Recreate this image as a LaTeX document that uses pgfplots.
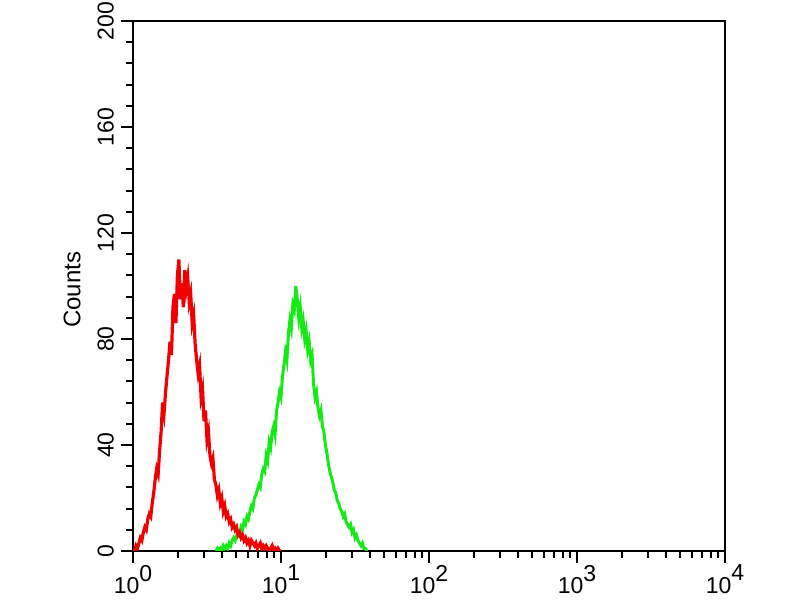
\documentclass[border=0pt]{standalone}
\usepackage{pgfplots}
\pgfplotsset{compat=1.18}
\usepackage{fontspec}
\setmainfont{Liberation Sans}
\definecolor{fcred}{RGB}{240,0,0}
\definecolor{fcgreen}{RGB}{20,235,20}
\newcommand{\pw}[1]{10\raisebox{0.55em}{#1}}
\begin{document}
\begin{tikzpicture}
\useasboundingbox (-66.5pt,-24.5pt) rectangle (333.5pt,275.5pt);
\begin{axis}[
  at={(0,0)}, anchor=south west,
  scale only axis, width=296pt, height=265pt,
  xmin=0, xmax=4, ymin=0, ymax=200,
  xtick={0,1,2,3,4},
  xticklabels={\pw{0},\pw{1},\pw{2},\pw{3},\pw{4}},
  minor xtick={0.301,0.477,0.602,0.699,0.778,0.845,0.903,0.954,
               1.301,1.477,1.602,1.699,1.778,1.845,1.903,1.954,
               2.301,2.477,2.602,2.699,2.778,2.845,2.903,2.954,
               3.301,3.477,3.602,3.699,3.778,3.845,3.903,3.954},
  ytick={0,40,80,120,160,200},
  minor y tick num=4,
  xtick pos=bottom, ytick pos=left,
  tick align=outside,
  major tick length=6pt, minor tick length=3.5pt,
  every tick/.style={black, line width=1pt},
  axis line style={line width=1.2pt},
  /pgf/number format/assume math mode=true,
  tick label style={font=\fontsize{11.5}{12}\selectfont},
  xticklabel style={anchor=north, yshift=2.5pt},
  yticklabel style={rotate=90, anchor=south},
  ylabel={Counts},
  ylabel style={font=\fontsize{12}{13}\selectfont, at={(axis description cs:-0.103,0.4925)}, anchor=center},
  clip=true,
]
\addplot[fcgreen, line width=1.5pt, sharp plot] table {
x y
0.56 0
0.57 1
0.58 0
0.59 1
0.60 0
0.61 2
0.62 1
0.63 2
0.64 1
0.65 3
0.66 2
0.67 4
0.68 5
0.69 4
0.70 6
0.71 7
0.72 6
0.73 9
0.74 8
0.75 11
0.76 10
0.77 13
0.78 12
0.79 15
0.80 17
0.81 16
0.82 20
0.83 21
0.84 23
0.85 25
0.86 24
0.87 29
0.88 31
0.89 30
0.90 36
0.91 34
0.92 41
0.93 39
0.94 45
0.95 47
0.96 44
0.97 53
0.98 56
0.99 60
1.00 58
1.01 66
1.02 70
1.03 75
1.04 72
1.05 82
1.06 87
1.07 84
1.08 93
1.09 91
1.10 100
1.11 95
1.12 88
1.13 92
1.14 84
1.15 87
1.16 80
1.17 83
1.18 76
1.19 79
1.20 72
1.21 74
1.22 63
1.23 58
1.24 60
1.25 54
1.26 51
1.27 53
1.28 47
1.29 45
1.30 40
1.31 37
1.32 33
1.33 30
1.34 28
1.35 26
1.36 23
1.37 22
1.38 19
1.39 18
1.40 16
1.41 15
1.42 13
1.43 14
1.44 11
1.45 10
1.46 9
1.47 10
1.48 7
1.49 8
1.50 5
1.51 6
1.52 4
1.53 3
1.54 2
1.55 3
1.56 1
1.57 1
1.58 0
};
\addplot[fcred, line width=1.6pt, sharp plot] table {
x y
0.00 0
0.01 0
0.02 2
0.03 1
0.04 3
0.05 5
0.06 4
0.07 7
0.08 9
0.09 8
0.10 12
0.11 14
0.12 13
0.13 18
0.14 22
0.15 27
0.16 31
0.17 29
0.18 38
0.19 45
0.20 56
0.21 52
0.22 60
0.23 66
0.24 72
0.25 79
0.26 74
0.27 92
0.28 97
0.29 86
0.30 104
0.31 110
0.32 95
0.33 101
0.34 92
0.35 106
0.36 99
0.37 103
0.38 94
0.39 97
0.40 86
0.41 89
0.42 78
0.43 72
0.44 67
0.45 70
0.46 58
0.47 61
0.48 49
0.49 53
0.50 42
0.51 45
0.52 36
0.53 33
0.54 35
0.55 27
0.56 25
0.57 21
0.58 23
0.59 18
0.60 20
0.61 15
0.62 17
0.63 13
0.64 14
0.65 11
0.66 12
0.67 9
0.68 10
0.69 8
0.70 9
0.71 6
0.72 7
0.73 5
0.74 6
0.75 4
0.76 5
0.77 3
0.78 4
0.79 2
0.80 4
0.81 3
0.82 2
0.83 3
0.84 1
0.85 2
0.86 3
0.87 1
0.88 2
0.89 1
0.90 2
0.91 1
0.92 0
0.93 1
0.94 2
0.95 0
0.96 1
0.97 0
0.98 1
0.99 0
1.00 0
};
\end{axis}
\end{tikzpicture}
\end{document}
